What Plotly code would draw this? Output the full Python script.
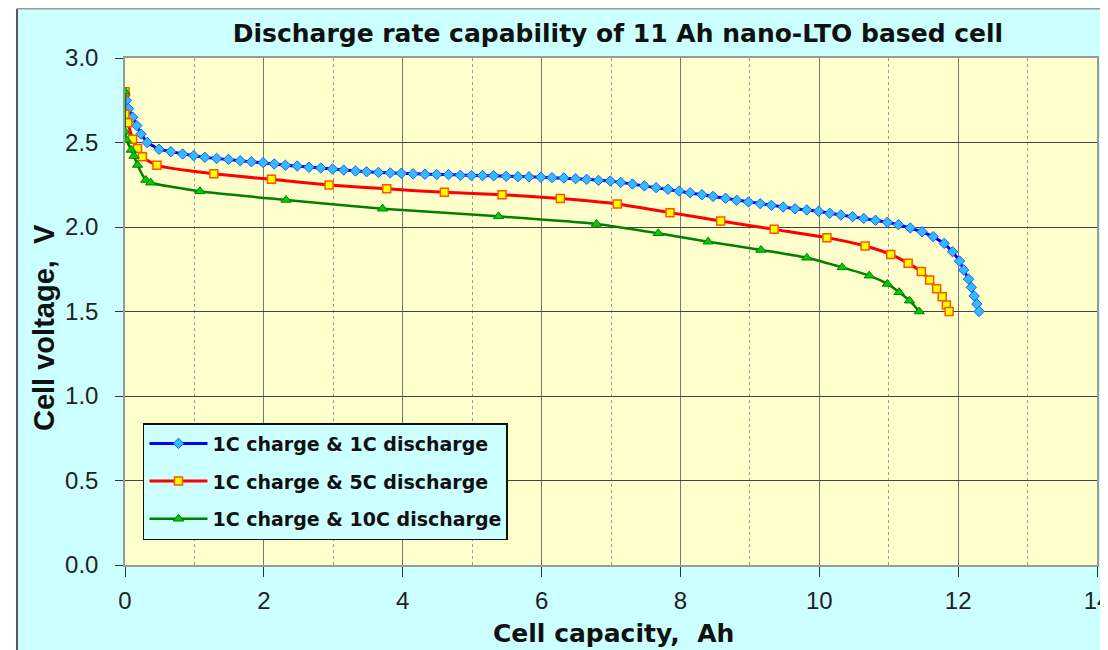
import plotly.graph_objects as go

# 1C charge & 1C discharge
cap_1c = [0.00, 0.02, 0.05, 0.11, 0.17, 0.23, 0.32, 0.49, 0.66, 0.83,
          0.99, 1.15, 1.32, 1.49, 1.66, 1.82, 1.99, 2.15, 2.31, 2.48,
          2.65, 2.82, 2.99, 3.15, 3.32, 3.48, 3.65, 3.82, 3.98, 4.15,
          4.32, 4.49, 4.66, 4.83, 4.99, 5.15, 5.31, 5.49, 5.66, 5.82,
          5.99, 6.15, 6.32, 6.49, 6.65, 6.82, 6.99, 7.14, 7.31, 7.48,
          7.65, 7.82, 7.98, 8.14, 8.31, 8.47, 8.65, 8.81, 8.98, 9.15,
          9.31, 9.48, 9.65, 9.82, 9.99, 10.15, 10.31, 10.48, 10.64, 10.81,
          10.98, 11.14, 11.31, 11.48, 11.64, 11.80, 11.92, 12.02, 12.08, 12.15,
          12.19, 12.23, 12.27, 12.30]
volt_1c = [2.78, 2.75, 2.70, 2.65, 2.60, 2.55, 2.50, 2.46, 2.446, 2.432,
           2.422, 2.412, 2.406, 2.40, 2.392, 2.386, 2.381, 2.373, 2.365, 2.361,
           2.353, 2.349, 2.343, 2.337, 2.331, 2.327, 2.323, 2.320, 2.318, 2.314,
           2.312, 2.310, 2.310, 2.306, 2.304, 2.304, 2.303, 2.300, 2.298, 2.297,
           2.294, 2.292, 2.290, 2.286, 2.282, 2.276, 2.272, 2.264, 2.254, 2.243,
           2.233, 2.223, 2.213, 2.203, 2.191, 2.181, 2.170, 2.158, 2.148, 2.138,
           2.128, 2.118, 2.108, 2.101, 2.093, 2.081, 2.071, 2.061, 2.051, 2.040,
           2.028, 2.014, 1.994, 1.972, 1.943, 1.903, 1.854, 1.799, 1.746, 1.692,
           1.643, 1.592, 1.544, 1.50]

# 1C charge & 5C discharge
cap_5c = [0.00, 0.00, 0.04, 0.11, 0.18, 0.25, 0.46, 1.28, 2.11, 2.94,
          3.77, 4.60, 5.43, 6.27, 7.09, 7.85, 8.58, 9.35, 10.11, 10.66,
          11.03, 11.28, 11.47, 11.59, 11.69, 11.77, 11.83, 11.87]
volt_5c = [2.80, 2.667, 2.617, 2.519, 2.465, 2.416, 2.365, 2.315, 2.282, 2.249,
           2.226, 2.205, 2.191, 2.168, 2.136, 2.085, 2.036, 1.986, 1.937, 1.888,
           1.838, 1.785, 1.736, 1.686, 1.635, 1.588, 1.538, 1.50]

# 1C charge & 10C discharge
cap_10c = [0.00, 0.00, 0.02, 0.09, 0.13, 0.18, 0.30, 0.37, 1.08, 2.32,
           3.71, 5.38, 6.79, 7.68, 8.40, 9.16, 9.82, 10.33, 10.72, 10.98,
           11.15, 11.30, 11.44]
volt_10c = [2.80, 2.564, 2.515, 2.456, 2.42, 2.367, 2.278, 2.262, 2.211, 2.160,
            2.108, 2.063, 2.018, 1.963, 1.913, 1.864, 1.818, 1.761, 1.712, 1.663,
            1.614, 1.564, 1.50]

names = ['1C charge & 1C discharge', '1C charge & 5C discharge', '1C charge & 10C discharge']

fig = go.Figure()

fig.add_trace(go.Scatter(
    x=cap_1c, y=volt_1c, name='<b>' + names[0] + '</b>', legendgroup='a',
    mode='lines+markers', line=dict(color='#0000FF', width=3),
    marker=dict(symbol='diamond', size=8, color='#33BBFF', line=dict(color='#1E5BFF', width=1))))

fig.add_trace(go.Scatter(
    x=cap_5c, y=volt_5c, name='<b>' + names[1] + '</b>', legendgroup='b',
    mode='lines+markers', line=dict(color='#FF0000', width=3, shape='spline', smoothing=0.6),
    marker=dict(symbol='square', size=8, color='#FFFF00', line=dict(color='#FF5500', width=1.5))))

fig.add_trace(go.Scatter(
    x=cap_10c, y=volt_10c, name='<b>' + names[2] + '</b>', legendgroup='c',
    mode='lines+markers', line=dict(color='#008000', width=2.5, shape='spline', smoothing=0.6),
    marker=dict(symbol='triangle-up', size=9, color='#00CC00', line=dict(color='#008000', width=1))))

# outer frame: white strip on the left, thin borders round the cyan panel
fig.add_shape(type='rect', xref='paper', yref='paper', x0=-0.2, x1=-0.1111, y0=-0.3, y1=1.3,
              fillcolor='white', line_width=0, layer='below')
fig.add_shape(type='line', xref='paper', yref='paper', x0=-0.1111, x1=-0.1111, y0=-0.3, y1=1.097,
              line=dict(color='#222', width=1.5))
fig.add_shape(type='line', xref='paper', yref='paper', x0=-0.1111, x1=1.2, y0=1.097, y1=1.097,
              line=dict(color='#999', width=1.5))

# axis titles
fig.add_annotation(text='<b>Cell voltage,  V</b>', xref='paper', yref='paper',
                   x=-0.0833, y=0.4675, xanchor='center', yanchor='middle',
                   textangle=-90, showarrow=False,
                   font=dict(family='Liberation Sans, Arial', size=29, color='#111'))
fig.add_annotation(text='<b>Cell capacity,  Ah</b>', xref='paper', yref='paper',
                   x=0.503, y=-0.136, xanchor='center', yanchor='middle', showarrow=False,
                   font=dict(family='DejaVu Sans', size=25, color='#111'))

fig.update_layout(
    width=1100, height=642,
    margin=dict(l=117, r=11, t=50, b=85, autoexpand=False),
    paper_bgcolor='#CCFFFF', plot_bgcolor='#FFFFCC',
    title=dict(text='<b>Discharge rate capability of 11 Ah nano-LTO based cell</b>',
               x=0.5545, xanchor='center', y=0.961, yanchor='middle',
               font=dict(family='DejaVu Sans', size=25, color='#111')),
    font=dict(family='Liberation Sans, Arial', color='#222'),
    legend=dict(x=0.0185, y=0.28, xanchor='left', yanchor='top',
                bgcolor='#CCFFFF', bordercolor='#111', borderwidth=1.5,
                font=dict(family='DejaVu Sans', size=19, color='#111'),
                tracegroupgap=10, itemwidth=58),
    showlegend=True)

fig.update_xaxes(
    range=[0, 14], dtick=2, tick0=0,
    showgrid=True, gridcolor='#777', gridwidth=1,
    minor=dict(dtick=1, showgrid=True, gridcolor='#999', griddash='dot', ticks=''),
    ticks='outside', ticklen=10, tickcolor='#333',
    tickfont=dict(size=24), ticklabelstandoff=3, ticklabeloverflow='allow',
    showline=True, linecolor='#999', linewidth=1.5, mirror=True,
    zeroline=False, automargin=False)

fig.update_yaxes(
    range=[0, 3], dtick=0.5, tickformat='.1f',
    showgrid=True, gridcolor='#444', gridwidth=1,
    ticks='outside', ticklen=8, tickcolor='#333',
    tickfont=dict(size=24), ticklabelstandoff=12,
    showline=True, linecolor='#999', linewidth=1.5, mirror=True,
    zeroline=False, automargin=False)

fig.write_html("out.html")
